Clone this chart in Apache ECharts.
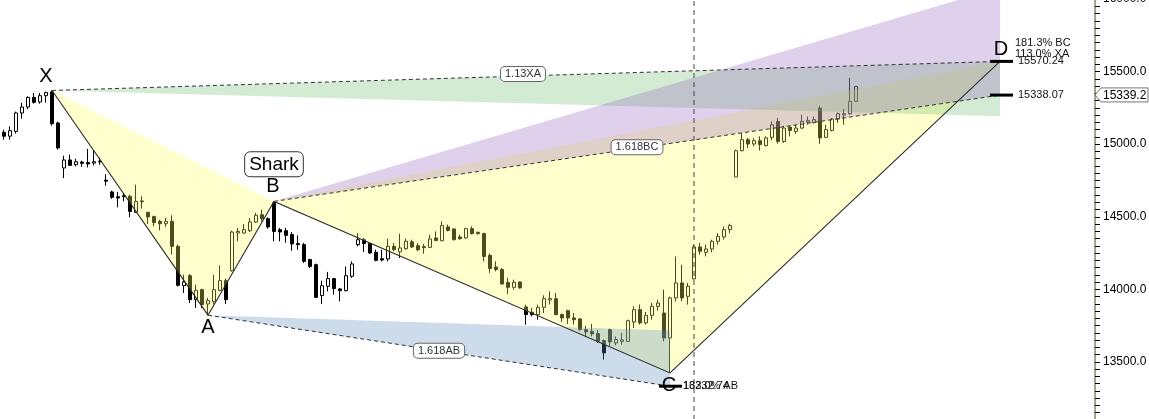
<!DOCTYPE html>
<html><head><meta charset="utf-8">
<script src="https://cdn.jsdelivr.net/npm/echarts@6/dist/echarts.min.js"></script>
<style>html,body{margin:0;padding:0;background:#fff;}#c{width:1149px;height:419px;}</style>
</head><body><div id="c"></div>
<script>
// ---- candle data (index = bar number) ----
const opens  = [15082,15055,15088,15215,15256,15322,15291,15334,15360,15146,14836,14891,14859,14877,14873,14870,14882,14752,14671,14638,14645,14641,14530,14609,14530,14501,14468,14452,14468,14296,14025,14094,13929,13998,13899,13917,13993,14060,14129,14388,14388,14404,14464,14514,14487,14597,14411,14404,14377,14315,14308,14205,14170,13957,14021,14074,14003,13991,14090,14308,14342,14315,14255,14211,14209,14296,14258,14280,14327,14301,14294,14289,14354,14335,14430,14416,14361,14354,14418,14393,14384,14234,14154,14136,14048,14014,14051,13879,13842,13826,13876,13927,13936,13826,13853,13803,13796,13722,13711,13695,13647,13722,13631,13642,13642,13775,13860,13769,13821,13883,13837,13665,13941,14044,13952,14072,14292,14255,14278,14331,14361,14411,14774,14955,15031,15001,15024,14990,15047,15157,15019,15118,15088,15111,15152,15150,15249,15047,15095,15173,15201,15210,15295];
const closes = [15055,15093,15215,15256,15322,15288,15334,15355,15141,14974,14891,14854,14879,14868,14864,14879,14878,14745,14634,14629,14638,14537,14606,14604,14499,14461,14452,14468,14296,14028,14051,13929,13993,13895,13922,13998,14060,13929,14395,14399,14411,14464,14510,14487,14430,14399,14395,14372,14313,14308,14193,14158,13945,14025,14074,14005,13991,14094,14175,14342,14315,14251,14200,14202,14296,14273,14285,14331,14292,14273,14287,14347,14337,14439,14406,14342,14349,14418,14384,14384,14227,14143,14136,14037,14014,14048,14010,13826,13826,13876,13936,13936,13826,13803,13803,13791,13722,13707,13693,13642,13562,13638,13654,13652,13784,13860,13769,13821,13883,13906,13665,13941,14044,13941,14021,14292,14262,14278,14331,14365,14411,14439,14955,15031,15001,15024,14997,15043,15134,15019,15111,15095,15111,15157,15162,15169,15043,15100,15173,15210,15210,15295,15398];
const lows   = [15031,15031,15073,15175,15241,15279,15279,15286,15127,14962,14767,14852,14847,14843,14840,14854,14859,14714,14623,14565,14606,14496,14526,14556,14450,14434,14406,14430,14239,14019,13975,13906,13872,13872,13822,13895,13986,13899,14122,14331,14384,14395,14457,14468,14418,14331,14331,14320,14266,14273,14182,14147,13941,13899,13986,13963,13917,13986,14079,14296,14258,14244,14193,14193,14193,14262,14216,14273,14285,14262,14246,14285,14331,14331,14399,14337,14342,14349,14377,14377,14193,14113,14124,14032,13968,13998,14005,13757,13814,13791,13837,13895,13821,13775,13762,13757,13716,13676,13676,13631,13516,13607,13614,13619,13638,13734,13757,13757,13791,13853,13642,13424,13917,13917,13895,14067,14239,14227,14255,14308,14342,14388,14774,14950,14974,14985,14957,14985,15026,15003,15008,15054,15072,15105,15134,15141,15003,15043,15088,15146,15134,15203,15295];
const highs  = [15100,15123,15224,15285,15330,15352,15352,15362,15370,15155,14921,14928,14900,14886,14967,14960,14909,14793,14680,14671,14664,14652,14721,14641,14535,14508,14480,14492,14510,14308,14101,14106,14032,14005,13941,14101,14165,14074,14404,14423,14450,14492,14526,14549,14496,14606,14423,14423,14395,14372,14320,14211,14177,14060,14120,14079,14008,14158,14193,14388,14354,14320,14273,14273,14349,14320,14384,14349,14342,14320,14313,14377,14399,14468,14446,14421,14377,14423,14434,14397,14390,14246,14193,14147,14079,14067,14053,13895,13872,13895,13959,13986,13975,13833,13860,13837,13802,13750,13762,13722,13654,13729,13676,13700,13791,13883,13895,13844,13906,13929,13998,13950,14227,14170,14044,14308,14320,14308,14342,14388,14434,14452,14962,15077,15043,15043,15054,15054,15157,15180,15127,15127,15134,15203,15191,15191,15265,15134,15180,15219,15242,15456,15398];
const lastPrice = 15339.2;
const slotCount = 182;           // bar slots on the time axis (incl. empty future space)
const cursorIdx = 115;           // vertical dashed cursor

// ---- y axis ----
const yMin = 13100, yMax = 16000, yStep = 50, yLabelStep = 500;

// ---- harmonic pattern ----
const pointNames = ['X','A','B','C','D'];
const pointIdx   = [8, 34, 45, 111, 166];
const pointVal   = [15370, 13822, 14606, 13424, 15570.24];
const lvl113XA = 15570.24, lvl886XA = 15192, lvl1618BC = 15338.07, lvlBCTop = 16078, lvl1618AB = 13332.74, lvlABTop = 13716;
const ratioTexts = ['1.13XA', '1.618BC', '1.618AB'];
const dTexts = ['181.3% BC', '113.0% XA', '15570.24', '15338.07'];
const cTexts = ['162.0% AB', '13332.74'];
const titleText = 'Shark';

const P = {}; pointNames.forEach((n,k)=>P[n]=[pointIdx[k], pointVal[k]]);
const dI = pointIdx[4], cI = pointIdx[3];

const FONT = "'Liberation Sans', Arial, sans-serif";
const COLORS = {
  yellow:'rgba(255,255,90,0.3)', green:'rgba(110,190,110,0.3)',
  purple:'rgba(150,100,190,0.3)', blue:'rgba(90,140,190,0.3)'
};

const zones = [
  {c:'yellow', pts:[P.X,P.A,P.B]},
  {c:'yellow', pts:[P.B,P.C,P.D]},
  {c:'green',  pts:[P.X,[dI,lvl113XA],[dI,lvl886XA]]},
  {c:'purple', pts:[P.B,[dI,lvlBCTop],[dI,lvl1618BC]]},
  {c:'blue',   pts:[P.A,[cI,lvlABTop],[cI,lvl1618AB]]}
];
const lines = [
  {s:'solid', pts:[P.X,P.A,P.B,P.C,P.D]},
  {s:'dash', pts:[P.X,[dI,lvl113XA]]},
  {s:'dash', pts:[P.B,[dI,lvl1618BC]]},
  {s:'dash', pts:[P.A,[cI,lvl1618AB]]},
  {s:'cursor', pts:[[cursorIdx,yMin],[cursorIdx,yMax]]}
];
const bars = [
  {at:[dI,lvl113XA], a:-10, b:13},
  {at:[dI,lvl1618BC], a:-10, b:13},
  {at:[cI,lvl1618AB], a:-11, b:12}
];
const texts = [
  {t:'X', at:P.X, dx:-6, dy:-14, k:'letter'},
  {t:'A', at:P.A, dx:0, dy:12, k:'letter'},
  {t:'B', at:P.B, dx:-1, dy:-15, k:'letter'},
  {t:'C', at:P.C, dx:-1, dy:13, k:'letter'},
  {t:'D', at:P.D, dx:1, dy:-12, k:'letter'},
  {t:titleText, at:P.B, dx:0, dy:-37, k:'title'},
  {t:ratioTexts[0], mid:[P.X,[dI,lvl113XA]], dx:-3, dy:-2, k:'ratio'},
  {t:ratioTexts[1], mid:[P.B,[dI,lvl1618BC]], dx:0, dy:-1, k:'ratio'},
  {t:ratioTexts[2], mid:[P.A,[cI,lvl1618AB]], dx:0, dy:0, k:'ratio'},
  {t:dTexts[0], at:[dI,lvl113XA], dx:15, dy:-18, k:'side'},
  {t:dTexts[1], at:[dI,lvl113XA], dx:15, dy:-7, k:'side'},
  {t:dTexts[2], at:[dI,lvl113XA], dx:18, dy:0, k:'side'},
  {t:dTexts[3], at:[dI,lvl1618BC], dx:18, dy:0, k:'side'},
  {t:cTexts[0], at:[cI,lvl1618AB], dx:13, dy:0, k:'side'},
  {t:cTexts[1], at:[cI,lvl1618AB], dx:13, dy:0, k:'side'}
];

const chart = echarts.init(document.getElementById('c'), null, {renderer:'canvas'});
const cats = Array.from({length:slotCount}, (_,i)=>String(i));
const candleData = opens.map((o,i)=>[o, closes[i], lows[i], highs[i]]);

const textStyles = {
  letter:{font:'20px '+FONT, fill:'#000', align:'center', verticalAlign:'middle'},
  title:{font:'19px '+FONT, fill:'#000', align:'center', verticalAlign:'middle', backgroundColor:'#fff', borderColor:'#333', borderWidth:1, borderRadius:5, padding:[3,4,2,4]},
  ratio:{font:'11px '+FONT, fill:'#333', align:'center', verticalAlign:'middle', backgroundColor:'#fff', borderColor:'#666', borderWidth:1, borderRadius:4, padding:[2,4,1,4]},
  side:{font:'11px '+FONT, fill:'#111', align:'left', verticalAlign:'middle'}
};

const option = {
  animation:false,
  backgroundColor:'#fff',
  grid:{left:1, right:56, top:-1, bottom:-1, containLabel:false, outerBoundsMode:'none'},
  xAxis:[
    {type:'category', data:cats, boundaryGap:true, show:false},
    {type:'value', min:-0.5, max:slotCount-0.5, show:false}
  ],
  yAxis:{
    type:'value', position:'right', offset:2, min:yMin, max:yMax, interval:yStep,
    splitLine:{show:false},
    axisLine:{show:true, onZero:false, lineStyle:{color:'#a3a294', width:2}},
    axisTick:{show:true, length:5, lineStyle:{color:'#000', width:1}},
    axisLabel:{color:'#000', fontSize:12, fontFamily:FONT, margin:8,
      formatter:v => (v % yLabelStep === 0 ? v.toFixed(1) : '')}
  },
  series:[
    {type:'candlestick', xAxisIndex:0, yAxisIndex:0, data:candleData, barWidth:4, z:2,
      itemStyle:{color:'#fff', color0:'#000', borderColor:'#000', borderColor0:'#000', borderWidth:1}},
    {type:'custom', xAxisIndex:1, yAxisIndex:0, z:3, data:zones.map((z,k)=>[k, yMin]),
      renderItem:(p, api)=>{ const z = zones[p.dataIndex];
        return {type:'polygon', shape:{points:z.pts.map(pt=>api.coord(pt))}, style:{fill:COLORS[z.c]}}; }},
    {type:'custom', xAxisIndex:1, yAxisIndex:0, z:4, data:lines.map((l,k)=>[k, yMin]),
      renderItem:(p, api)=>{ const l = lines[p.dataIndex];
        const st = l.s==='solid' ? {stroke:'#2b2b2b', lineWidth:1.1}
                 : l.s==='dash' ? {stroke:'#333', lineWidth:1, lineDash:[4,3]}
                 : {stroke:'#444', lineWidth:1, lineDash:[5,4]};
        return {type:'polyline', shape:{points:l.pts.map(pt=>api.coord(pt))}, style:Object.assign({fill:null}, st)}; }},
    {type:'custom', xAxisIndex:1, yAxisIndex:0, z:5, data:bars.map((b,k)=>[k, yMin]),
      renderItem:(p, api)=>{ const b = bars[p.dataIndex]; const c = api.coord(b.at);
        return {type:'line', shape:{x1:c[0]+b.a, y1:c[1], x2:c[0]+b.b, y2:c[1]}, style:{stroke:'#000', lineWidth:3}}; }},
    {type:'custom', xAxisIndex:1, yAxisIndex:0, z:6, data:texts.map((t,k)=>[k, yMin]),
      renderItem:(p, api)=>{ const t = texts[p.dataIndex];
        let c;
        if (t.mid) { const a = api.coord(t.mid[0]), b = api.coord(t.mid[1]); c = [(a[0]+b[0])/2, (a[1]+b[1])/2]; }
        else c = api.coord(t.at);
        return {type:'text', x:c[0]+t.dx, y:c[1]+t.dy, style:Object.assign({text:t.t}, textStyles[t.k])}; }},
    {type:'custom', xAxisIndex:1, yAxisIndex:0, z:7, data:[[slotCount-0.5, lastPrice]],
      renderItem:(p, api)=>{ const c = api.coord([slotCount-0.5, lastPrice]); const x = c[0]+2, y = c[1], W = api.getWidth()-1;
        return {type:'group', children:[
          {type:'polygon', shape:{points:[[x,y],[x+6,y-7],[W,y-7],[W,y+7],[x+6,y+7]]}, style:{fill:'#fff', stroke:'#777', lineWidth:1}},
          {type:'text', x:x+8, y:y+0.5, style:{text:lastPrice.toFixed(1), font:'12px '+FONT, fill:'#000', verticalAlign:'middle'}}
        ]}; }}
  ]
};
chart.setOption(option);
</script>
</body></html>
